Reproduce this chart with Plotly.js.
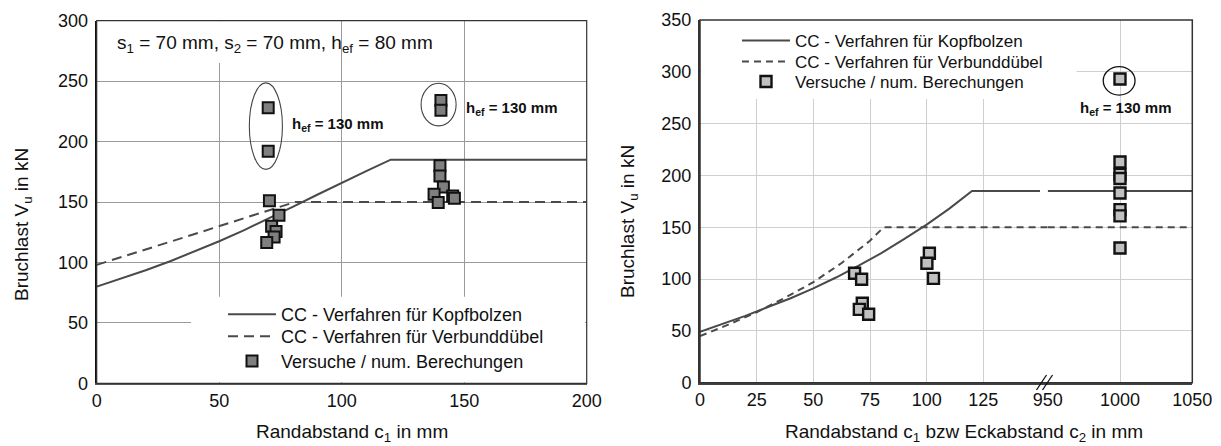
<!DOCTYPE html>
<html>
<head>
<meta charset="utf-8">
<script src="https://cdn.plot.ly/plotly-3.0.1.min.js"></script>
<style>html,body{margin:0;padding:0;background:#fff;}#chart{width:1221px;height:446px;}</style>
</head>
<body>
<div id="chart"></div>
<script>
// ---------- data: left chart ----------
const leftKopfX = [0,10,20,30,40,50,60,70,80,90,100,110,120,200];
const leftKopfY = [80,86.5,93.5,101,109,117.5,126.5,136,146,156,166,175.5,185,185];
const leftVerbX = [0,20,40,60,81,200];
const leftVerbY = [98,110.5,123.5,136.5,150,150];
const leftTestX = [70,70,70.5,74.4,71.4,73.2,72.4,69.4,140.5,140.5,140.1,140.1,141.5,137.7,145.3,146,139.4];
const leftTestY = [228,192,151,139,130,125.5,121,116.5,234,226,180,171.5,162.5,156.5,155,153,149.5];
const leftXTicks = [0,50,100,150,200];
const leftYTicks = [0,50,100,150,200,250,300];

// ---------- data: right chart ----------
const rightKopfX1 = [0,10,20,30,40,50,60,70,80,90,100,110,120,150];
const rightKopfY1 = [49,56.5,64.5,73,81.5,91,101.5,113,125,138.5,152.5,168,185,185];
const rightKopfX2 = [950,1050];
const rightKopfY2 = [185,185];
const rightVerbX1 = [0,12.5,25,37.5,50,62.5,75,81,153.4];
const rightVerbY1 = [45,56,68,82,97,115.5,137,150,150];
const rightVerbX2 = [950,1050];
const rightVerbY2 = [150,150];
const rightTestX1 = [68.2,71.3,71.6,70.3,74.4,101.2,100.1,103];
const rightTestY1 = [105.6,99.8,76.6,70.8,66,124.9,115.2,100.7];
const rightTestX2 = [1000,1000,1000,1000,1000,1000,1000,1000];
const rightTestY2 = [293,213,201,197,183,167,161,130];
const rightXTicks1 = [0,25,50,75,100,125];
const rightXTicks2 = [950,1000,1050];
const rightYTicks = [0,50,100,150,200,250,300,350];

const nameKopf = "CC - Verfahren für Kopfbolzen";
const nameVerb = "CC - Verfahren für Verbunddübel";
const nameTest = "Versuche / num. Berechungen";

// ---------- geometry helpers (pixel -> paper) ----------
const W = 1221, H = 446;
const px = v => v / W;
const py = v => 1 - v / H;

const FONT = "Liberation Sans, Arial, sans-serif";
const lineCol = "#4a4a4a";

const traces = [
  {x: leftKopfX, y: leftKopfY, xaxis: "x", yaxis: "y", mode: "lines", name: nameKopf,
   line: {color: lineCol, width: 2}, legend: "legend"},
  {x: leftVerbX, y: leftVerbY, xaxis: "x", yaxis: "y", mode: "lines", name: nameVerb,
   line: {color: lineCol, width: 2, dash: "10px,6px"}, legend: "legend3"},
  {x: leftTestX, y: leftTestY, xaxis: "x", yaxis: "y", mode: "markers", name: nameTest,
   marker: {symbol: "square", size: 11, color: "#7f7f7f", line: {color: "#111", width: 2}}, legend: "legend4"},

  {x: rightKopfX1, y: rightKopfY1, xaxis: "x2", yaxis: "y2", mode: "lines", name: nameKopf,
   line: {color: lineCol, width: 2}, legend: "legend2"},
  {x: rightVerbX1, y: rightVerbY1, xaxis: "x2", yaxis: "y2", mode: "lines", name: nameVerb,
   line: {color: lineCol, width: 2, dash: "7px,5px"}, legend: "legend5"},
  {x: rightTestX1, y: rightTestY1, xaxis: "x2", yaxis: "y2", mode: "markers", name: nameTest,
   marker: {symbol: "square", size: 11, color: "#c0c0c0", line: {color: "#111", width: 2.4}}, legend: "legend6"},
  {x: rightKopfX2, y: rightKopfY2, xaxis: "x3", yaxis: "y2", mode: "lines", showlegend: false,
   line: {color: lineCol, width: 2}},
  {x: rightVerbX2, y: rightVerbY2, xaxis: "x3", yaxis: "y2", mode: "lines", showlegend: false,
   line: {color: lineCol, width: 2, dash: "7px,5px"}},
  {x: rightTestX2, y: rightTestY2, xaxis: "x3", yaxis: "y2", mode: "markers", showlegend: false,
   marker: {symbol: "square", size: 11, color: "#c0c0c0", line: {color: "#111", width: 2.4}}}
];

const tickFont = {family: FONT, size: 18, color: "#111"};
const baseAxis = {showline: true, ticks: "", tickfont: tickFont, zeroline: false, fixedrange: true};

function leg(xpx, ypx, size) {
  return {
    x: px(xpx), y: py(ypx), xanchor: "left", yanchor: "top",
    bgcolor: "rgba(0,0,0,0)", borderwidth: 0, itemwidth: 48,
    font: {family: FONT, size: size, color: "#111"}, tracegroupgap: 0
  };
}

const layout = {
  width: W, height: H,
  margin: {l: 0, r: 0, t: 0, b: 0, pad: 0},
  paper_bgcolor: "#fff", plot_bgcolor: "rgba(0,0,0,0)",
  font: {family: FONT, size: 18, color: "#111"},
  showlegend: true,
  xaxis: Object.assign({}, baseAxis, {
    domain: [px(96.7), px(586.7)], range: [0, 200], anchor: "y",
    tickmode: "array", tickvals: leftXTicks, ticklabelstandoff: 0,
    showgrid: true, gridcolor: "#9a9a9a", gridwidth: 1,
    linecolor: "#555", linewidth: 2
  }),
  yaxis: Object.assign({}, baseAxis, {
    domain: [py(383.3), py(20.7)], range: [0, 300], anchor: "x",
    tickmode: "array", tickvals: leftYTicks, ticklabelstandoff: 3,
    showgrid: true, gridcolor: "#9a9a9a", gridwidth: 1,
    linecolor: "#111", linewidth: 2
  }),
  xaxis2: Object.assign({}, baseAxis, {
    domain: [px(700), px(1047.7)], range: [0, 153.4], anchor: "y2",
    tickmode: "array", tickvals: rightXTicks1, ticklabelstandoff: 0,
    showgrid: true, gridcolor: "#cfcfcf", gridwidth: 1,
    linecolor: "#444", linewidth: 2
  }),
  xaxis3: Object.assign({}, baseAxis, {
    domain: [px(1047.7), px(1192.3)], range: [950, 1050], anchor: "y2",
    tickmode: "array", tickvals: rightXTicks2, ticklabelstandoff: 0,
    showgrid: true, gridcolor: "#cfcfcf", gridwidth: 1,
    linecolor: "#444", linewidth: 2
  }),
  yaxis2: Object.assign({}, baseAxis, {
    domain: [py(382.7), py(20)], range: [0, 350], anchor: "x2",
    tickmode: "array", tickvals: rightYTicks, ticklabelstandoff: 3,
    showgrid: true, gridcolor: "#cfcfcf", gridwidth: 1,
    linecolor: "#333", linewidth: 2
  }),
  legend: leg(223, 296, 18),
  legend3: leg(223, 318, 18),
  legend4: leg(223, 342.7, 18),
  legend2: leg(737, 23, 17),
  legend5: leg(737, 44, 17),
  legend6: leg(737, 64, 17),
  shapes: [
    // grid masks (white boxes behind text blocks)
    {type: "rect", xref: "x", yref: "y", x0: 0.5, x1: 90, y0: 265, y1: 299.5, layer: "between",
     fillcolor: "#fff", line: {width: 0}},
    {type: "rect", xref: "x", yref: "y", x0: 38.5, x1: 199.3, y0: 0.8, y1: 71.6, layer: "between",
     fillcolor: "#fff", line: {width: 0}},
    {type: "rect", xref: "x2", yref: "y2", x0: 0.5, x1: 153.4, y0: 273.8, y1: 349.5, layer: "between",
     fillcolor: "#fff", line: {width: 0}},
    {type: "rect", xref: "x3", yref: "y2", x0: 950, x1: 970, y0: 273.8, y1: 349.5, layer: "between",
     fillcolor: "#fff", line: {width: 0}},
    // frames (thin top/right borders)
    {type: "rect", xref: "paper", yref: "paper", x0: px(96.7), x1: px(586.7), y0: py(383.3), y1: py(20.7),
     line: {color: "#333", width: 1.2}, fillcolor: "rgba(0,0,0,0)", layer: "above"},
    {type: "rect", xref: "paper", yref: "paper", x0: px(700), x1: px(1192.3), y0: py(382.7), y1: py(20),
     line: {color: "#333", width: 1.5}, fillcolor: "rgba(0,0,0,0)", layer: "above"},
    // ellipses marking h_ef = 130 mm
    {type: "circle", xref: "x", yref: "y", x0: 62.3, x1: 75.8, y0: 177, y1: 248.6,
     line: {color: "#444", width: 1.1}},
    {type: "circle", xref: "x", yref: "y", x0: 132.4, x1: 146.7, y0: 213, y1: 248.2,
     line: {color: "#444", width: 1.1}},
    {type: "circle", xref: "x3", yref: "y2", x0: 988.4, x1: 1010.4, y0: 277.6, y1: 305,
     line: {color: "#111", width: 1.3}},
    // axis break marks
    {type: "line", xref: "paper", yref: "paper", x0: px(1036.5), y0: py(390), x1: px(1046.5), y1: py(375),
     line: {color: "#111", width: 1.3}},
    {type: "line", xref: "paper", yref: "paper", x0: px(1042.5), y0: py(390), x1: px(1052.5), y1: py(375),
     line: {color: "#111", width: 1.3}}
  ],
  annotations: [
    {xref: "x", yref: "y", x: 7.5, y: 281, xanchor: "left", yanchor: "middle", showarrow: false,
     text: "s<sub>1</sub> = 70 mm, s<sub>2</sub> = 70 mm, h<sub>ef</sub> = 80 mm",
     font: {family: FONT, size: 19, color: "#111"}},
    {xref: "x", yref: "y", x: 78.8, y: 214, xanchor: "left", yanchor: "middle", showarrow: false,
     text: "<b>h<sub>ef</sub> = 130 mm</b>", font: {family: FONT, size: 15, color: "#111"}},
    {xref: "x", yref: "y", x: 149.8, y: 227.5, xanchor: "left", yanchor: "middle", showarrow: false,
     text: "<b>h<sub>ef</sub> = 130 mm</b>", font: {family: FONT, size: 15, color: "#111"}},
    {xref: "x3", yref: "y2", x: 1004, y: 264.8, xanchor: "center", yanchor: "middle", showarrow: false,
     text: "<b>h<sub>ef</sub> = 130 mm</b>", font: {family: FONT, size: 15, color: "#111"}},
    // axis titles
    {xref: "paper", yref: "paper", x: px(351.5), y: py(433), xanchor: "center", yanchor: "middle", showarrow: false,
     text: "Randabstand c<sub>1</sub> in mm", font: {family: FONT, size: 19, color: "#111"}},
    {xref: "paper", yref: "paper", x: px(964), y: py(433), xanchor: "center", yanchor: "middle", showarrow: false,
     text: "Randabstand c<sub>1</sub> bzw Eckabstand c<sub>2</sub> in mm", font: {family: FONT, size: 19, color: "#111"}},
    {xref: "paper", yref: "paper", x: px(23), y: py(225), xanchor: "center", yanchor: "middle", showarrow: false,
     textangle: -90, text: "Bruchlast V<sub>u</sub> in kN", font: {family: FONT, size: 19, color: "#111"}},
    {xref: "paper", yref: "paper", x: px(629), y: py(222), xanchor: "center", yanchor: "middle", showarrow: false,
     textangle: -90, text: "Bruchlast V<sub>u</sub> in kN", font: {family: FONT, size: 19, color: "#111"}}
  ]
};

Plotly.newPlot("chart", traces, layout, {staticPlot: true, displayModeBar: false});
</script>
</body>
</html>
